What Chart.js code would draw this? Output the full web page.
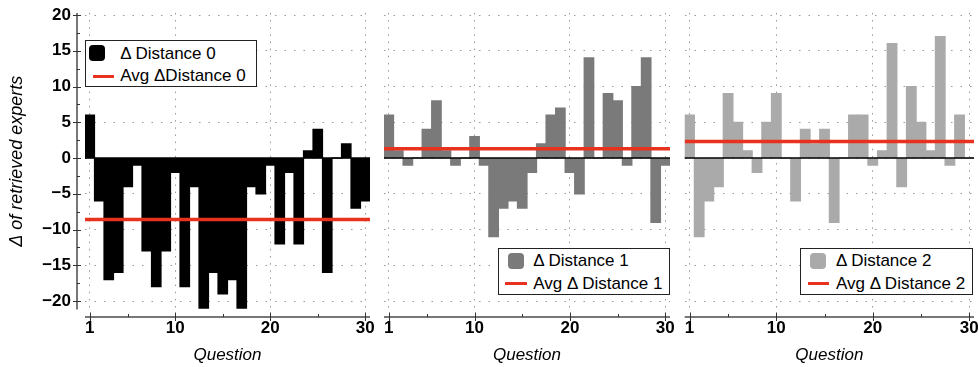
<!DOCTYPE html>
<html>
<head>
<meta charset="utf-8">
<script src="https://cdn.jsdelivr.net/npm/chart.js@4.4.1/dist/chart.umd.min.js"></script>
<style>
  body { margin: 0; background: #fff; }
  #wrap { position: relative; width: 979px; height: 367px; overflow: hidden; font-family: "Liberation Sans", Arial, sans-serif; }
  .panel { position: absolute; top: 0; }
  .legend { position: absolute; border: 1px solid #222; background: #fff; box-sizing: border-box; font-size: 17px; color: #000; }
  .legend .sym { position: absolute; width: 16px; height: 16px; border-radius: 4px; }
  .legend .avg { position: absolute; height: 3px; background: #e8321f; }
  .legend .txt { position: absolute; line-height: 20px; white-space: nowrap; }
</style>
</head>
<body>
<div id="wrap">
  <canvas class="panel" id="c0" width="375" height="367" style="left:0"></canvas>
  <canvas class="panel" id="c1" width="302" height="367" style="left:375px"></canvas>
  <canvas class="panel" id="c2" width="302" height="367" style="left:677px"></canvas>
</div>
<script>
// data
var questions = [1, 2, 3, 4, 5, 6, 7, 8, 9, 10, 11, 12, 13, 14, 15, 16, 17, 18, 19, 20, 21, 22, 23, 24, 25, 26, 27, 28, 29, 30];
var distance0 = [6, -6, -17, -16, -4, -1, -13, -18, -13, -2, -18, -4, -21, -16, -19, -17, -21, -4, -5, -1, -12, -2, -12, 1, 4, -16, 0, 2, -7, -6];
var distance1 = [6, 1, -1, 0, 4, 8, 1, -1, 0, 3, -1, -11, -7, -6, -7, -2, 2, 6, 7, -2, -5, 14, 0, 9, 8, -1, 10, 14, -9, -1];
var distance2 = [6, -11, -6, -4, 9, 5, 1, -2, 5, 9, 0, -6, 4, 2, 4, -9, 0, 6, 6, -1, 1, 16, -4, 10, 5, 1, 17, -1, 6, 0];
var xTicks = [1, 10, 20, 30];
var xMinorTicks = [5, 15, 25];
var yTicks = [-20, -15, -10, -5, 0, 5, 10, 15, 20];
var yMinorTicks = [-17.5, -12.5, -7.5, -2.5, 2.5, 7.5, 12.5, 17.5];

Chart.defaults.font.family = '"Liberation Sans", Arial, Helvetica, sans-serif';

var RED = '#e8321f';
var areaTop = 12.9, areaBottom = 309.6, canvasH = 367;

var panels = [
  { id: 'c0', values: distance0, color: '#000000', canvasLeft: 0, canvasWidth: 375, areaLeft: 85, areaRight: 370, yLabels: true,
    legend: { left: 85, top: 40, width: 172, sym: 2.5, line: 6.7, text: 34.3, label: 'Δ Distance 0', avgLabel: 'Avg ΔDistance 0' } },
  { id: 'c1', values: distance1, color: '#7a7a7a', canvasLeft: 375, canvasWidth: 302, areaLeft: 384, areaRight: 670, yLabels: false,
    legend: { left: 497.7, top: 247.7, width: 172.3, sym: 9, line: 6.6, text: 34.6, label: 'Δ Distance 1', avgLabel: 'Avg Δ Distance 1' } },
  { id: 'c2', values: distance2, color: '#aaaaaa', canvasLeft: 677, canvasWidth: 302, areaLeft: 684.7, areaRight: 974, yLabels: false,
    legend: { left: 800, top: 247.7, width: 172.7, sym: 9.3, line: 6.6, text: 35, label: 'Δ Distance 2', avgLabel: 'Avg Δ Distance 2' } }
];

// offset axes (Mathematica style) + zero line
var offsetAxes = {
  id: 'offsetAxes',
  afterDatasetsDraw: function (chart, args, opts) {
    var ctx = chart.ctx, a = chart.chartArea;
    var x = chart.scales.x, y = chart.scales.y;
    ctx.save();
    // zero line
    ctx.strokeStyle = '#000';
    ctx.lineWidth = 1.6;
    ctx.beginPath();
    ctx.moveTo(a.left, y.getPixelForValue(0));
    ctx.lineTo(a.right, y.getPixelForValue(0));
    ctx.stroke();

    // x axis
    var ay = a.bottom + 7.4;
    ctx.strokeStyle = '#777';
    ctx.lineWidth = 2;
    ctx.beginPath();
    ctx.moveTo(a.left, ay);
    ctx.lineTo(a.right, ay);
    ctx.stroke();
    ctx.strokeStyle = '#333';
    ctx.lineWidth = 1;
    xTicks.forEach(function (v) {
      var px = Math.round(x.getPixelForValue(v)) + 0.5;
      ctx.beginPath(); ctx.moveTo(px, ay - 4.5); ctx.lineTo(px, ay + 4); ctx.stroke();
    });
    xMinorTicks.forEach(function (v) {
      var px = Math.round(x.getPixelForValue(v)) + 0.5;
      ctx.beginPath(); ctx.moveTo(px, ay - 3); ctx.lineTo(px, ay); ctx.stroke();
    });

    // y axis
    if (opts.yAxis) {
      var ax = a.left - 8;
      ctx.strokeStyle = '#777';
      ctx.lineWidth = 2;
      ctx.beginPath();
      ctx.moveTo(ax, a.top);
      ctx.lineTo(ax, a.bottom);
      ctx.stroke();
      ctx.strokeStyle = '#333';
      ctx.lineWidth = 1;
      yTicks.forEach(function (v) {
        var py = Math.round(y.getPixelForValue(v)) + 0.5;
        ctx.beginPath(); ctx.moveTo(ax - 4, py); ctx.lineTo(ax + 4, py); ctx.stroke();
      });
      yMinorTicks.forEach(function (v) {
        var py = Math.round(y.getPixelForValue(v)) + 0.5;
        ctx.beginPath(); ctx.moveTo(ax, py); ctx.lineTo(ax + 3, py); ctx.stroke();
      });
    }
    ctx.restore();
  }
};

function makeLegend(p) {
  var L = p.legend;
  var box = document.createElement('div');
  box.className = 'legend';
  box.style.left = L.left + 'px';
  box.style.top = L.top + 'px';
  box.style.width = L.width + 'px';
  box.style.height = '47px';
  box.innerHTML =
    '<div class="sym" style="left:' + L.sym + 'px;top:4px;background:' + p.color + '"></div>' +
    '<div class="txt" style="left:' + L.text + 'px;top:2.5px">' + L.label + '</div>' +
    '<div class="avg" style="left:' + L.line + 'px;width:21.5px;top:33.5px"></div>' +
    '<div class="txt" style="left:' + L.text + 'px;top:25px">' + L.avgLabel + '</div>';
  document.getElementById('wrap').appendChild(box);
}

panels.forEach(function (p) {
  var avg = p.values.reduce(function (s, v) { return s + v; }, 0) / p.values.length;
  var bars = questions.map(function (q, i) { return { x: q, y: p.values[i] }; });

  new Chart(document.getElementById(p.id), {
    type: 'bar',
    data: {
      datasets: [
        {
          type: 'line',
          label: p.legend.avgLabel,
          data: [{ x: 0.5, y: avg }, { x: 30.5, y: avg }],
          borderColor: RED,
          borderWidth: 3.5,
          pointRadius: 0,
          order: 0
        },
        {
          label: p.legend.label,
          data: bars,
          backgroundColor: p.color,
          borderWidth: 0,
          inflateAmount: 0.6,
          barPercentage: 1,
          categoryPercentage: 1,
          order: 1
        }
      ]
    },
    options: {
      responsive: false,
      animation: false,
      layout: {
        padding: {
          top: areaTop,
          bottom: 0,
          left: p.yLabels ? 0 : p.areaLeft - p.canvasLeft,
          right: p.canvasLeft + p.canvasWidth - p.areaRight
        }
      },
      plugins: {
        legend: { display: false },
        tooltip: { enabled: false },
        offsetAxes: { yAxis: p.yLabels }
      },
      scales: {
        x: {
          type: 'linear',
          min: 0.5,
          max: 30.5,
          offset: false,
          afterBuildTicks: function (s) { s.ticks = xTicks.map(function (v) { return { value: v }; }); },
          afterFit: function (s) { s.height = canvasH - areaBottom; s.paddingLeft = 0; s.paddingRight = 0; },
          grid: { color: '#999', lineWidth: 1, drawTicks: false, offset: false },
          border: { display: false, dash: [1.5, 5.65] },
          ticks: { color: '#000', font: { size: 17, weight: 'bold' }, padding: 9, maxRotation: 0, autoSkip: false },
          title: { display: true, text: 'Question', color: '#000', font: { size: 17, style: 'italic' }, padding: 2 }
        },
        y: {
          min: -21.2,
          max: 20.3,
          afterBuildTicks: function (s) { s.ticks = yTicks.map(function (v) { return { value: v }; }); },
          afterFit: function (s) { s.width = p.yLabels ? p.areaLeft - p.canvasLeft : 0; s.paddingTop = 0; s.paddingBottom = 0; },
          grid: { color: '#999', lineWidth: 1, drawTicks: false },
          border: { display: false, dash: [1.5, 8] },
          ticks: {
            display: p.yLabels,
            color: '#000',
            font: { size: 17, weight: 'bold' },
            padding: 14,
            callback: function (v) { return String(v).replace('-', '\u2212'); }
          },
          title: { display: p.yLabels, text: 'Δ of retrieved experts', color: '#000', font: { size: 18, style: 'italic' }, padding: 6 }
        }
      }
    },
    plugins: [offsetAxes]
  });

  makeLegend(p);
});
</script>
</body>
</html>
